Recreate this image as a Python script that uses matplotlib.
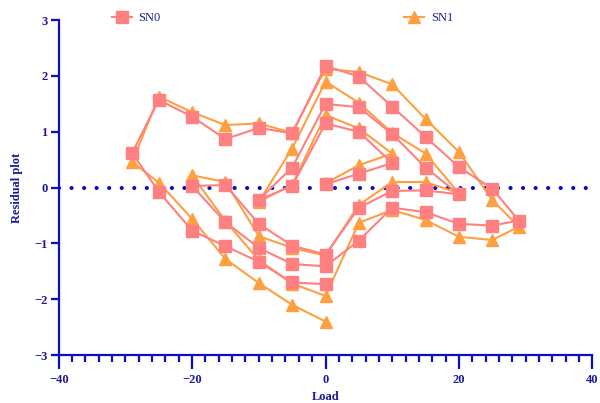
import matplotlib
matplotlib.use("Agg")
import matplotlib.pyplot as plt
from matplotlib.ticker import MultipleLocator

# load path (cyclic loading)
load = [0, 5, 10,
        5, 0, -5, -10,
        -5, 0, 5, 10, 15, 20,
        15, 10, 5, 0, -5, -10, -15, -20,
        -15, -10, -5, 0, 5, 10, 15, 20, 25, 29,
        25, 20, 15, 10, 5, 0, -5, -10, -15, -20, -25, -29,
        -25, -20, -15, -10, -5, 0]

sn0 = [0.06, 0.25, 0.44,
       1.00, 1.15, 0.03, -0.22,
       0.36, 1.50, 1.44, 0.96, 0.36, -0.12,
       -0.05, -0.06, -0.36, -1.20, -1.04, -0.65, 0.045, 0.03,
       -0.62, -1.08, -1.37, -1.41, -0.95, -0.36, -0.44, -0.65, -0.68, -0.59,
       -0.02, 0.37, 0.91, 1.45, 1.99, 2.18, 0.97, 1.07, 0.87, 1.27, 1.57, 0.62,
       -0.075, -0.77, -1.05, -1.33, -1.70, -1.73]

sn1 = [0.08, 0.40, 0.61,
       1.06, 1.30, 0.05, -0.25,
       0.70, 1.90, 1.52, 0.98, 0.61, -0.10,
       0.10, 0.10, -0.31, -1.22, -1.08, -0.87, 0.10, 0.22,
       -0.60, -1.30, -1.72, -1.94, -0.63, -0.40, -0.58, -0.88, -0.94, -0.70,
       -0.22, 0.64, 1.23, 1.85, 2.07, 2.13, 0.98, 1.15, 1.12, 1.35, 1.63, 0.46,
       0.09, -0.56, -1.28, -1.71, -2.10, -2.40]

navy = "#0c0cc4"
txt = "#1a1a9a"
c0 = "#ff8080"
c1 = "#ffa040"

plt.rcParams["font.family"] = ["Liberation Serif", "DejaVu Serif"]

fig = plt.figure(figsize=(6, 4.03), dpi=100)
ax = fig.add_axes([0.098, 0.119, 0.889, 0.831])

l1, = ax.plot(load, sn1, color=c1, lw=1.5, marker="^", ms=8.5, mec=c1, label="SN1")
l0, = ax.plot(load, sn0, color=c0, lw=1.5, marker="s", ms=8, mec=c0, label="SN0")

# zero reference line
ax.axhline(0, color=navy, lw=3, linestyle=(0, (0.01, 3.0)), dash_capstyle="round", zorder=1)

ax.set_xlim(-40, 40)
ax.set_ylim(-3, 3)
ax.xaxis.set_major_locator(MultipleLocator(20))
ax.xaxis.set_minor_locator(MultipleLocator(2))
ax.yaxis.set_major_locator(MultipleLocator(1))

for s in ["top", "right"]:
    ax.spines[s].set_visible(False)
for s in ["left", "bottom"]:
    ax.spines[s].set_color(navy)
    ax.spines[s].set_linewidth(1.6)

ax.tick_params(axis="both", which="major", direction="out", color=navy, width=1.6,
               labelcolor=txt, labelsize=9)
ax.tick_params(axis="x", which="major", length=10)
ax.tick_params(axis="x", which="minor", length=5, width=1.6, color=navy)
ax.tick_params(axis="y", which="major", length=6, pad=2)
for lab in ax.get_xticklabels() + ax.get_yticklabels():
    lab.set_fontweight("bold")

ax.set_xlabel("Load", color=txt, fontsize=9, fontweight="bold", labelpad=4)
ax.set_ylabel("Residual plot", color=txt, fontsize=9, fontweight="bold", labelpad=8)

leg = ax.legend([l0, l1], ["SN0", "SN1"], ncol=2, frameon=False, loc="center left",
                bbox_to_anchor=(0.079, 1.005), handlelength=1.6, handletextpad=0.5,
                columnspacing=19.5, fontsize=9, labelcolor=txt)

fig.savefig("out.png", dpi=100)
